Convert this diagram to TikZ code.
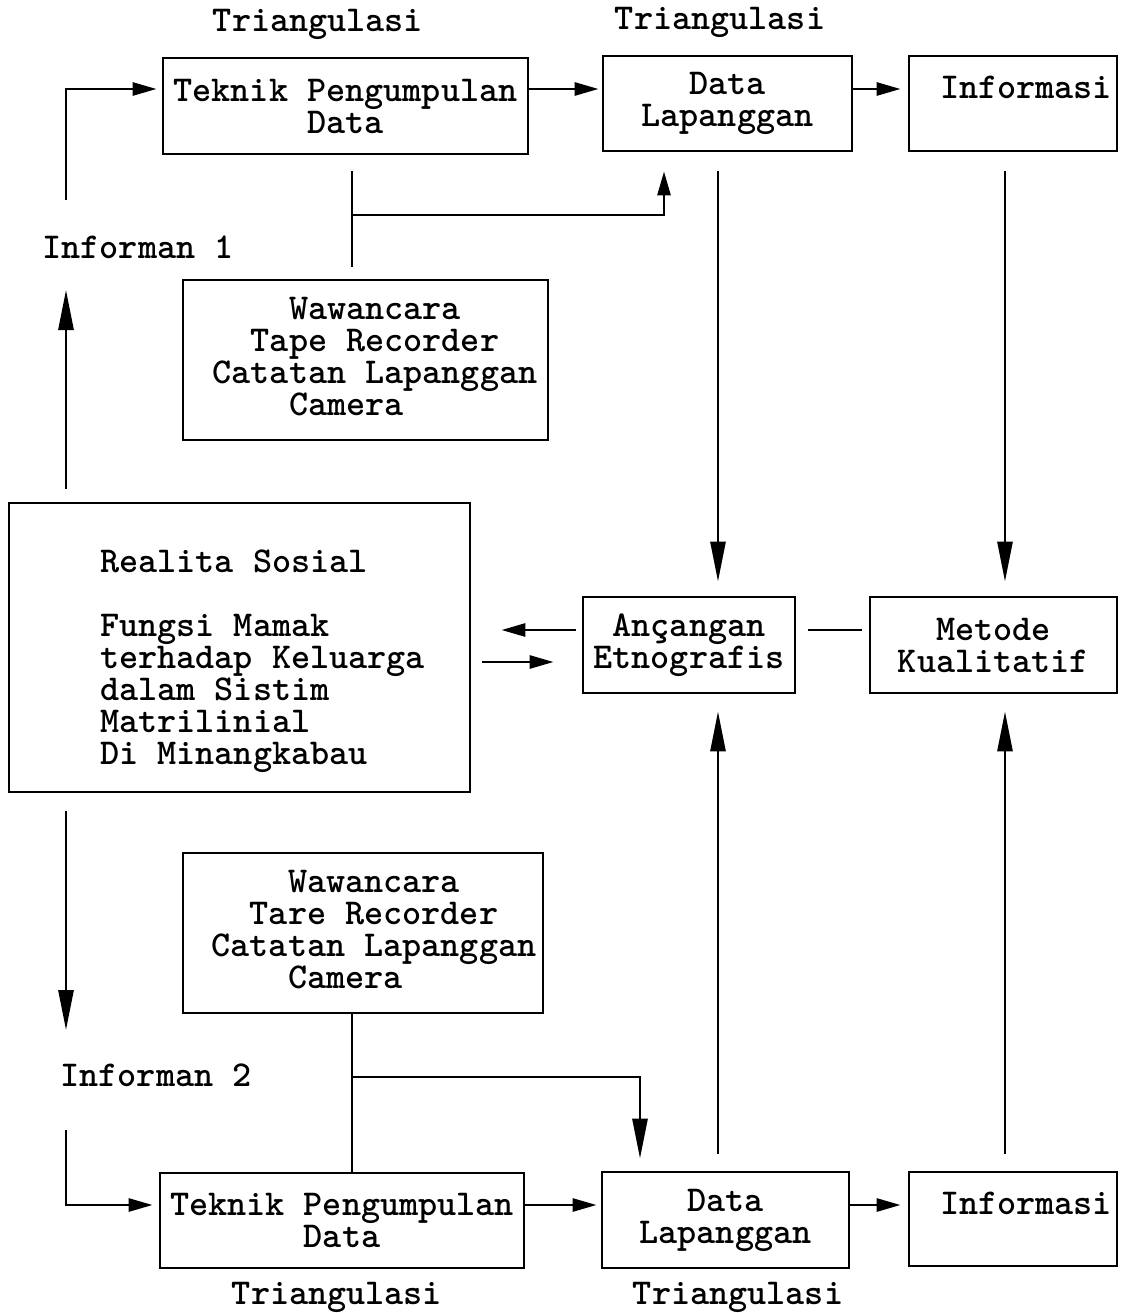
\documentclass[tikz,border=0pt]{standalone}
\usepackage{fontspec}
\usetikzlibrary{arrows.meta,positioning}

\begin{document}
\begin{tikzpicture}[x=1pt,y=-1pt,
  every node/.style={font=\ttfamily\bfseries\fontsize{36.4}{32}\selectfont,inner sep=0pt},
  box/.style={draw,line width=2.8pt,align=center},
  line/.style={line width=2.8pt},
  harr/.style={line width=2.8pt,-{Triangle[length=24pt,width=13pt]}},
  varr/.style={line width=2.8pt,-{Triangle[length=40pt,width=15pt]}}]

\useasboundingbox (0,0) rectangle (1120,1313);

% upper branch
\node[box,minimum width=365,minimum height=96] (tpd1) at (345.5,106) {Teknik Pengumpulan\\Data};
\node[box,minimum width=249,minimum height=95] (dl1) at (727.5,103.5) {Data\\Lapanggan};
\node[box,minimum width=208,minimum height=95] (inf1) at (1013,103.5) {\hspace*{26pt}Informasi\\\mbox{}};
\node (tri1) at (318,24) {Triangulasi};
\node (tri2) at (720,22) {Triangulasi};
\node[box,minimum width=365,minimum height=160] (w1) at (365.5,360) {};
\node[align=center] (w1txt) at (375,357) {Wawancara\\Tape Recorder\\Catatan Lapanggan\\Camera\phantom{xxx}};
\node (ifm1) at (138,247) {Informan 1};

% middle row
\node[box,minimum width=461,minimum height=289] (real) at (239.5,647.5) {};
\node[align=left,anchor=west] (realtxt) at (100,661) {Realita Sosial\\[32pt]Fungsi Mamak\\terhadap Keluarga\\dalam Sistim\\Matrilinial\\Di Minangkabau};
\node[box,minimum width=212,minimum height=96] (anc) at (689,645) {Ançangan\\Etnografis};
\node[box,minimum width=247,minimum height=96] (met) at (993.5,645) {Metode\\Kualitatif};

% lower branch
\node[box,minimum width=360,minimum height=160] (w2) at (363,933) {};
\node[align=center] (w2txt) at (374,930) {Wawancara\\Tare Recorder\\Catatan Lapanggan\\Camera\phantom{xxx}};
\node (ifm2) at (156,1075) {Informan 2};
\node[box,minimum width=364,minimum height=95] (tpd2) at (342,1220.5) {Teknik Pengumpulan\\Data};
\node[box,minimum width=247,minimum height=96] (dl2) at (725.5,1220) {Data\\Lapanggan};
\node[box,minimum width=208,minimum height=94] (inf2) at (1013,1219) {\hspace*{26pt}Informasi\\\mbox{}};
\node (tri3) at (337,1297) {Triangulasi};
\node (tri4) at (738,1297) {Triangulasi};

% helper points
\coordinate (colL) at (66,0);
\coordinate (colM) at (718,0);
\coordinate (colR) at (1005,0);
\coordinate (tapx) at (352,0);
\coordinate (up1) at (664,0);
\coordinate (dn2) at (640,0);
\coordinate (rowA) at (0,89);
\coordinate (rowB) at (0,630);
\coordinate (rowC) at (0,662);
\coordinate (rowD) at (0,1205);
\coordinate (i1a) at (66,200);
\coordinate (i1b) at (66,290);
\coordinate (i2a) at (66,1030);
\coordinate (i2b) at (66,1130);
\coordinate (j1) at (352,215);
\coordinate (j2) at (352,1077);

% connectors, top
\draw[harr,shorten >=5pt] (i1a) |- (tpd1.west |- rowA);
\draw[varr,shorten <=13pt] (real.north -| colL) -- (i1b);
\draw[harr,shorten >=3pt] (tpd1.east |- rowA) -- (dl1.west |- rowA);
\draw[harr,shorten >=7pt] (dl1.east |- rowA) -- (inf1.west |- rowA);
\draw[line,shorten <=16pt,shorten >=12pt] (tpd1.south -| tapx) -- (w1.north -| tapx);
\draw[harr,shorten >=19pt] (j1) -| (dl1.south -| up1);
\draw[varr,shorten <=19pt,shorten >=14pt] (dl1.south -| colM) -- (anc.north -| colM);
\draw[varr,shorten <=19pt,shorten >=14pt] (inf1.south -| colR) -- (met.north -| colR);

% connectors, middle
\draw[harr,shorten <=6pt,shorten >=30pt] (anc.west |- rowB) -- (real.east |- rowB);
\draw[harr,shorten <=11pt,shorten >=28pt] (real.east |- rowC) -- (anc.west |- rowC);
\draw[line,shorten <=12pt,shorten >=7pt] (anc.east |- rowB) -- (met.west |- rowB);

% connectors, bottom
\draw[varr,shorten <=18pt] (real.south -| colL) -- (i2a);
\draw[harr,shorten >=6pt] (i2b) |- (tpd2.west |- rowD);
\draw[line] (w2.south -| tapx) -- (tpd2.north -| tapx);
\draw[varr,shorten >=12pt] (j2) -| (dl2.north -| dn2);
\draw[harr,shorten >=4pt] (tpd2.east |- rowD) -- (dl2.west |- rowD);
\draw[harr,shorten >=7pt] (dl2.east |- rowD) -- (inf2.west |- rowD);
\draw[varr,shorten <=17pt,shorten >=17pt] (dl2.north -| colM) -- (anc.south -| colM);
\draw[varr,shorten <=17pt,shorten >=17pt] (inf2.north -| colR) -- (met.south -| colR);

\end{tikzpicture}
\end{document}
